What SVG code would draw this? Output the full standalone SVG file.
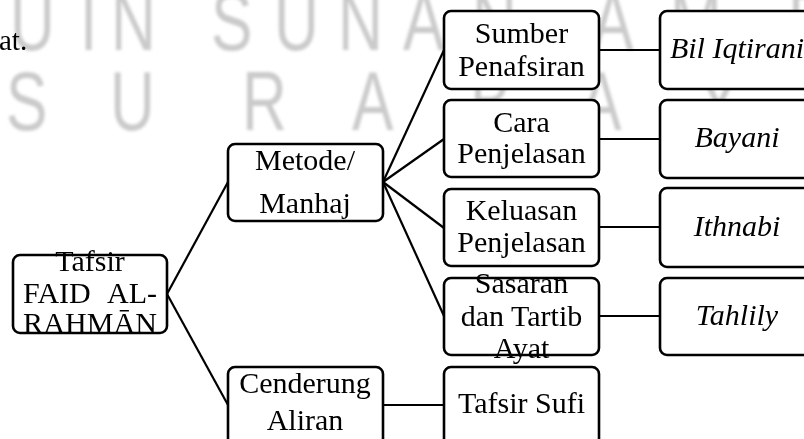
<svg xmlns="http://www.w3.org/2000/svg" width="804" height="439" viewBox="0 0 804 439">
<defs>
<filter id="blur" x="-10%" y="-10%" width="120%" height="120%"><feGaussianBlur stdDeviation="1.5"/></filter>
</defs>
<style>
.wm{font-family:"Liberation Sans","DejaVu Sans",sans-serif;font-size:84px;fill:#cbcbcb}
.box{fill:#fff;stroke:#000;stroke-width:2.6}
.t{font-family:"Liberation Serif","Times New Roman",serif;font-size:30px;fill:#000;text-anchor:middle}
.i{font-style:italic}
.c{stroke:#000;stroke-width:2.2;fill:none}
</style>
<rect width="804" height="439" fill="#fff"/>
<g id="watermark" filter="url(#blur)" class="wm">
<text transform="translate(10,50) scale(0.74,1)">U</text>
<text transform="translate(80,50) scale(0.74,1)">I</text>
<text transform="translate(111,50) scale(0.74,1)">N</text>
<text transform="translate(211,50) scale(0.74,1)">S</text>
<text transform="translate(274,50) scale(0.74,1)">U</text>
<text transform="translate(338,50) scale(0.74,1)">N</text>
<text transform="translate(403,50) scale(0.74,1)">A</text>
<text transform="translate(472,50) scale(0.74,1)">N</text>
<text transform="translate(592,50) scale(0.74,1)">A</text>
<text transform="translate(670,50) scale(0.74,1)">M</text>
<text transform="translate(788,50) scale(0.74,1)">P</text>
<text transform="translate(6,130) scale(0.74,1)">S</text>
<text transform="translate(110,130) scale(0.74,1)">U</text>
<text transform="translate(242,130) scale(0.74,1)">R</text>
<text transform="translate(352,130) scale(0.74,1)">A</text>
<text transform="translate(470,130) scale(0.74,1)">B</text>
<text transform="translate(580,130) scale(0.74,1)">A</text>
<text transform="translate(698,130) scale(0.74,1)">Y</text>
<text transform="translate(808,130) scale(0.74,1)">A</text>
</g>
<text x="-1" y="50" class="t" style="text-anchor:start;font-size:29px">at.</text>
<g id="connectors" class="c">
<line x1="167" y1="294" x2="228" y2="182"/>
<line x1="167" y1="294" x2="228" y2="405"/>
<line x1="383" y1="182" x2="444" y2="50"/>
<line x1="383" y1="182" x2="444" y2="139"/>
<line x1="383" y1="182" x2="444" y2="228"/>
<line x1="383" y1="182" x2="444" y2="316"/>
<line x1="599" y1="50" x2="660" y2="50"/>
<line x1="599" y1="139" x2="660" y2="139"/>
<line x1="599" y1="227" x2="660" y2="227"/>
<line x1="599" y1="316" x2="660" y2="316"/>
<line x1="383" y1="405" x2="444" y2="405"/>
</g>
<g id="tafsir">
<rect class="box" x="13" y="255" width="154" height="78" rx="7"/>
<text class="t" x="90" y="271">Tafsir</text>
<text class="t" x="23" y="303" style="text-anchor:start">FAID</text>
<text class="t" x="157" y="303" style="text-anchor:end">AL-</text>
<text class="t" x="23" y="333" style="text-anchor:start" textLength="134" lengthAdjust="spacing">RAHMĀN</text>
</g>
<g id="metode">
<rect class="box" x="228" y="144" width="155" height="77" rx="7"/>
<text class="t" x="305" y="170">Metode/</text>
<text class="t" x="305" y="213">Manhaj</text>
</g>
<g id="cenderung">
<rect class="box" x="228" y="367" width="155" height="80" rx="7"/>
<text class="t" x="305" y="393">Cenderung</text>
<text class="t" x="305" y="430">Aliran</text>
</g>
<g id="sumber">
<rect class="box" x="444" y="11" width="155" height="78" rx="7"/>
<text class="t" x="521.5" y="43">Sumber</text>
<text class="t" x="521.5" y="76">Penafsiran</text>
</g>
<g id="cara">
<rect class="box" x="444" y="100" width="155" height="77" rx="7"/>
<text class="t" x="521.5" y="132">Cara</text>
<text class="t" x="521.5" y="163">Penjelasan</text>
</g>
<g id="keluasan">
<rect class="box" x="444" y="189" width="155" height="77" rx="7"/>
<text class="t" x="521.5" y="220">Keluasan</text>
<text class="t" x="521.5" y="252">Penjelasan</text>
</g>
<g id="sasaran">
<rect class="box" x="444" y="278" width="155" height="77" rx="7"/>
<text class="t" x="521.5" y="293">Sasaran</text>
<text class="t" x="521.5" y="326">dan Tartib</text>
<text class="t" x="521.5" y="358">Ayat</text>
</g>
<g id="tafsirsufi">
<rect class="box" x="444" y="367" width="155" height="80" rx="7"/>
<text class="t" x="521.5" y="413">Tafsir Sufi</text>
</g>
<g id="bil">
<rect class="box" x="660" y="11" width="160" height="78" rx="7"/>
<text class="t i" x="737" y="58">Bil Iqtirani</text>
</g>
<g id="bayani">
<rect class="box" x="660" y="100" width="160" height="78" rx="7"/>
<text class="t i" x="737" y="147">Bayani</text>
</g>
<g id="ithnabi">
<rect class="box" x="660" y="188" width="160" height="79" rx="7"/>
<text class="t i" x="737" y="236">Ithnabi</text>
</g>
<g id="tahlily">
<rect class="box" x="660" y="278" width="160" height="77" rx="7"/>
<text class="t i" x="737" y="325">Tahlily</text>
</g>
</svg>
